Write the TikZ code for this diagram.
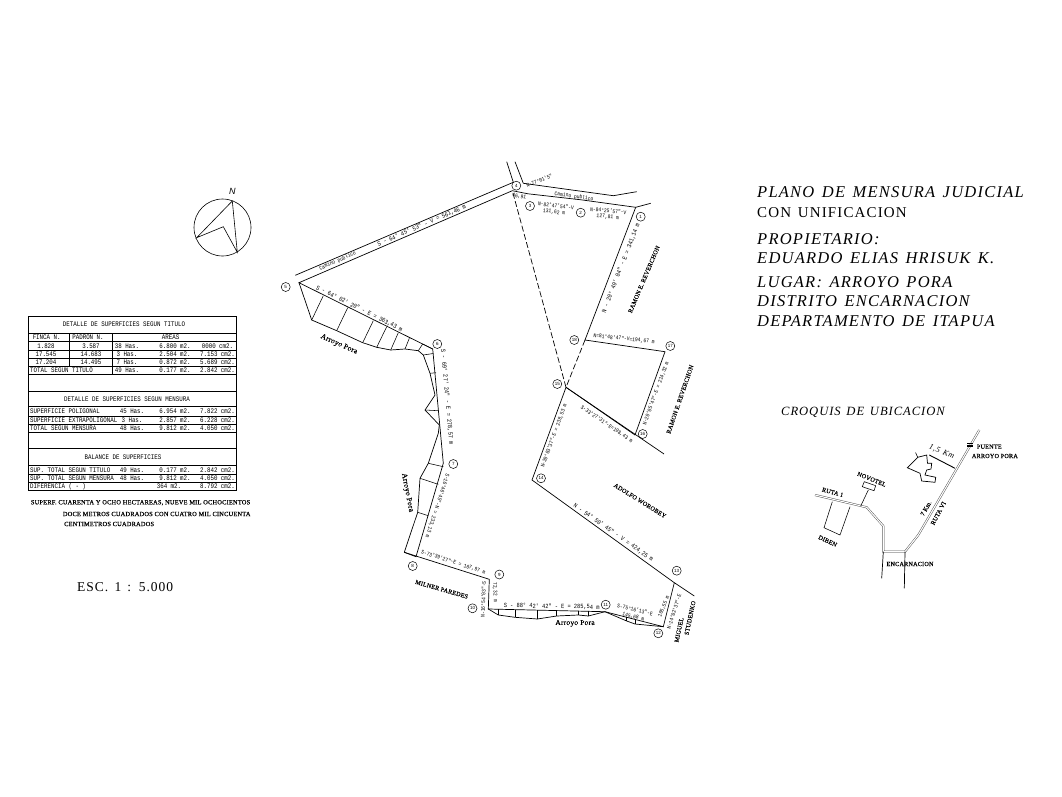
\documentclass[tikz,border=0pt]{standalone}
\usepackage{fontspec}
\setmainfont{Liberation Serif}
\newfontfamily\cadfont{Liberation Sans}
\newfontfamily\monofont[FakeStretch=0.83]{Liberation Mono}
\newfontfamily\platefont[LetterSpace=7.5,WordSpace=1.4]{Liberation Serif}
\newfontfamily\notefont[LetterSpace=3,FakeBold=0.4]{Liberation Serif}
\newcommand{\arearow}[6]{
	\node[tabcell] (#1h) at (#3,#2) {#4};
	\node[tabcell] (#1m) at (175,#2) {#5};
	\node[tabcell] (#1c) at (217.5,#2) {#6};
}
\tikzset{
	lotline/.style={line width=0.7pt},
	thinline/.style={line width=0.55pt},
	stake/.style={circle,draw,line width=0.5pt,inner sep=0pt,minimum size=9pt,font=\cadfont\fontsize{4.5}{5}\selectfont},
	meas/.style={inner sep=0pt,font=\monofont\fontsize{6.4}{7}\selectfont},
	smallmeas/.style={inner sep=0pt,font=\monofont\fontsize{5.6}{6}\selectfont},
	owner/.style={inner sep=0pt,font=\notefont\fontsize{6.2}{7}\selectfont},
	creek/.style={inner sep=0pt,font=\notefont\fontsize{7.5}{8}\selectfont},
	tabcell/.style={inner sep=0pt,font=\monofont\fontsize{7}{7}\selectfont},
	tabhead/.style={tabcell,anchor=west},
	noteline/.style={inner sep=0pt,anchor=west,font=\notefont\fontsize{6.4}{7}\selectfont},
	plate/.style={inner sep=0pt,anchor=west,font=\platefont\itshape\fontsize{16.5}{18}\selectfont},
	highway/.style={line width=0.45pt,double=white,double distance=1.1pt,draw=black!70},
	sketchtext/.style={inner sep=0pt,font=\notefont\fontsize{6.2}{7}\selectfont}
}
\begin{document}
\begin{tikzpicture}[x=1pt,y=-1pt]
	\useasboundingbox (0,0) rectangle (1062,797);

	% north
	\node[circle,draw,line width=0.6pt,minimum size=57pt,inner sep=0pt] (rose) at (222.5,227.5) {};
	\node[inner sep=0pt,font=\cadfont\itshape\fontsize{9}{9}\selectfont] (north) at (232.3,191) {N};
	\draw[line width=0.6pt] (232.3,201) -- (237.3,252.3) -- (223.3,226.7) -- (196.7,237.7) -- cycle;

	% table
	\foreach \y in {316.7,333.3,341.7,350,358,366.7,374,391,406.7,416,424.5,432.5,448.3,465.7,474.3,482.3,490}
		\draw[thinline] (28.3,\y) -- (236.7,\y);
	\draw[thinline] (28.3,316.7) -- (28.3,490);
	\draw[thinline] (236.7,316.7) -- (236.7,490);
	\draw[thinline] (69.3,333.3) -- (69.3,366.7);
	\draw[thinline] (112.7,333.3) -- (112.7,374);
	\node[tabcell] (tabA) at (124,324.5) {DETALLE DE SUPERFICIES SEGUN TITULO};
	\node[tabcell] (finca) at (46.7,337.6) {FINCA N.};
	\node[tabcell] (padron) at (88,337.6) {PADRON N.};
	\node[tabcell] (areas) at (170.7,337.6) {AREAS};
	\node[tabcell] (fa) at (46,346) {1.828};
	\node[tabcell] (pa) at (91,346) {3.587};
	\node[tabcell] (fb) at (46,354) {17.545};
	\node[tabcell] (pb) at (91,354) {14.683};
	\node[tabcell] (fc) at (46,362.3) {17.204};
	\node[tabcell] (pc) at (91,362.3) {14.495};
	\arearow{ra}{346}{127}{38 Has.}{6.800 m2.}{0000 cm2.}
	\arearow{rb}{354}{127}{3 Has.}{2.504 m2.}{7.153 cm2.}
	\arearow{rc}{362.3}{127}{7 Has.}{0.872 m2.}{5.689 cm2.}
	\node[tabhead] (ta) at (30,370.3) {TOTAL SEGUN TITULO};
	\arearow{rd}{370.3}{127}{49 Has.}{0.177 m2.}{2.842 cm2.}
	\node[tabcell] (tabB) at (127,399) {DETALLE DE SUPERFICIES SEGUN MENSURA};
	\node[tabhead] (sa) at (30,411.4) {SUPERFICIE POLIGONAL};
	\arearow{re}{411.4}{132}{45 Has.}{6.954 m2.}{7.822 cm2.}
	\node[tabhead] (sb) at (30,420.2) {SUPERFICIE EXTRAPOLIGONAL};
	\arearow{rf}{420.2}{132}{3 Has.}{2.857 m2.}{6.228 cm2.}
	\node[tabhead] (sc) at (30,428.6) {TOTAL SEGUN MENSURA};
	\arearow{rg}{428.6}{132}{48 Has.}{9.812 m2.}{4.050 cm2.}
	\node[tabcell] (tabC) at (123,457) {BALANCE DE SUPERFICIES};
	\node[tabhead] (ba) at (30,470) {SUP. TOTAL SEGUN TITULO};
	\arearow{rh}{470}{132}{49 Has.}{0.177 m2.}{2.842 cm2.}
	\node[tabhead] (bb) at (30,478.3) {SUP. TOTAL SEGUN MENSURA};
	\arearow{ri}{478.3}{132}{48 Has.}{9.812 m2.}{4.050 cm2.}
	\node[tabhead] (bc) at (30,486.2) {DIFERENCIA ( - )};
	\node[tabcell] (rjm) at (169,486.2) {364 m2.};
	\node[tabcell] (rjc) at (217.5,486.2) {8.792 cm2.};

	\node[noteline] (noteA) at (30.7,502.7) {SUPERF. CUARENTA Y OCHO HECTAREAS, NUEVE MIL OCHOCIENTOS};
	\node[noteline] (noteB) at (62.7,514) {DOCE METROS CUADRADOS CON CUATRO MIL CINCUENTA};
	\node[noteline] (noteC) at (64,524) {CENTIMETROS CUADRADOS};
	\node[anchor=west,inner sep=0pt,font=\platefont\fontsize{13.5}{14}\selectfont] (scale) at (77,587) {ESC. 1 : 5.000};

	% title
	\node[plate] (titleA) at (757,192) {PLANO DE MENSURA JUDICIAL};
	\node[plate,font=\platefont\fontsize{15}{17}\selectfont] (titleB) at (757,213) {CON UNIFICACION};
	\node[plate] (titleC) at (757,239) {PROPIETARIO:};
	\node[plate] (titleD) at (757,258) {EDUARDO ELIAS HRISUK K.};
	\node[plate] (titleE) at (757,282) {LUGAR: ARROYO PORA};
	\node[plate] (titleF) at (757,301) {DISTRITO ENCARNACION};
	\node[plate] (titleG) at (757,321) {DEPARTAMENTO DE ITAPUA};
	\node[plate,font=\platefont\itshape\fontsize{12.6}{14}\selectfont] (sketch) at (781,412) {CROQUIS DE UBICACION};

	% corners
	\coordinate (c1) at (635.7,207.3);
	\coordinate (c2) at (581,199.8);
	\coordinate (c3) at (528,193.8);
	\coordinate (c4) at (512.3,190.7);
	\coordinate (c5) at (299,282.7);
	\coordinate (c6) at (432.7,349);
	\coordinate (c7) at (443.3,463.3);
	\coordinate (c8) at (416,556.7);
	\coordinate (c8b) at (404.3,552.3);
	\coordinate (c9) at (489.3,579.3);
	\coordinate (c10) at (488.3,609);
	\coordinate (c11) at (605,611.7);
	\coordinate (c12) at (663.3,626.7);
	\coordinate (c13) at (674.3,582.7);
	\coordinate (c13b) at (694.3,596);
	\coordinate (c14) at (532,480);
	\coordinate (c15) at (566,387.3);
	\coordinate (c15b) at (664,454);
	\coordinate (c16) at (635,435);
	\coordinate (c17) at (665,351.7);
	\coordinate (c18) at (585,340);

	% stakes
	\node[stake] (s1) at (640.7,216.7) {1};
	\node[stake] (s2) at (580.7,212.7) {2};
	\node[stake] (s3) at (530,206) {3};
	\node[stake] (s4) at (516.3,185.7) {4};
	\node[stake] (s5) at (285.7,287) {5};
	\node[stake] (s6) at (437.3,344) {6};
	\node[stake] (s7) at (453.3,464) {7};
	\node[stake] (s8) at (412.7,566) {8};
	\node[stake] (s9) at (499.3,574.5) {9};
	\node[stake] (s10) at (472.5,608.3) {10};
	\node[stake] (s11) at (605.7,604.7) {11};
	\node[stake] (s12) at (658.3,633.3) {12};
	\node[stake] (s13) at (676.7,570.7) {13};
	\node[stake] (s14) at (541,478.3) {14};
	\node[stake] (s15) at (557.3,384) {15};
	\node[stake] (s16) at (642.7,434) {16};
	\node[stake] (s17) at (670.3,346) {17};
	\node[stake] (s18) at (574.3,340) {18};

	% boundary
	\draw[lotline] (c1) -- (c2) -- (c3) -- (c4) -- (c5) -- (c6) -- (c7) -- (c8) -- (c8b);
	\draw[lotline] (c8b) -- (c9) -- (c10) -- (c11) -- (c12) -- (c13);
	\draw[lotline] (c13b) -- (c13) -- (c14) -- (c15) -- (c15b);
	\draw[lotline] (c15) -- (c16);
	\draw[lotline] (c16) -- (c17) -- (c18) -- (c1);
	\draw[lotline,dashed,dash pattern=on 6pt off 2.5pt] (c18) -- (c15) -- (c4);

	% road
	\coordinate (ra) at (295.3,275.3);
	\coordinate (rb) at (513.3,182.3);
	\coordinate (rc) at (506.7,161.7);
	\coordinate (rd) at (515,161.7);
	\coordinate (re) at (523.3,183.3);
	\coordinate (rf) at (613.3,195.7);
	\coordinate (rg) at (636.7,191.7);
	\coordinate (rh) at (650.7,203.3);
	\draw[lotline] (ra) -- (rb) -- (rc);
	\draw[lotline] (rd) -- (re) -- (rf) -- (rg);
	\draw[lotline] (c1) -- (rh);

	% creek
	\draw[lotline] (c5) -- (311.7,320) -- (336.7,330.7) -- (362.7,342.7) -- (376.7,347.3) -- (390.7,350) -- (405,349) -- (418.3,350.7) -- (423.3,355) -- (430,373.3) -- (435,395) -- (425,410) -- (439.3,425) -- (438.3,433.3) -- (428.3,463.3) -- (420,478.3) -- (417.7,512.3) -- (c8b);
	\draw[thinline] (323.3,295.7) -- (311.7,320);
	\draw[thinline] (347.7,307.7) -- (336.7,330.7);
	\draw[thinline] (373.3,320.7) -- (362.7,342.7);
	\draw[thinline] (386.7,326.7) -- (376.7,347.3);
	\draw[thinline] (398.3,332.7) -- (390.7,350);
	\draw[thinline] (409.3,338.3) -- (405,349);
	\draw[thinline] (418.3,350.7) -- (422.7,344) -- (c6);
	\draw[thinline] (423.3,355) -- (433.3,353.5);
	\draw[thinline] (430,373.3) -- (436,372.7);
	\draw[thinline] (425,410) -- (438.3,410.7);
	\draw[thinline] (428.3,463.3) -- (443.3,466.7);
	\draw[thinline] (420,478.3) -- (438.3,484.3);
	\draw[thinline] (417.7,512.3) -- (428.3,515.7);
	\draw[lotline] (c10) -- (498.3,615) -- (515,617.3) -- (537.3,619) -- (556.7,616) -- (578.3,615) -- (588.3,616) -- (c11) -- (626.7,621) -- (635,624) -- (c12);
	\foreach \x/\ya/\yb in {498.3/609.4/615,515/609.6/617.3,537.3/610/619,556.7/610.3/616,578.3/610.7/615,588.3/610.9/616}
		\draw[thinline] (\x,\ya) -- (\x,\yb);
	\draw[thinline] (626.7,617.2) -- (626.7,621);
	\draw[thinline] (635,619.3) -- (635,624);

	% measures
	\node[smallmeas,rotate=23.5] (m1) at (337.7,261) {Camino publico};
	\node[meas,rotate=23.5] (m2) at (421.7,225.7) {S - 64° 45' 53" - V = 561,46 m};
	\node[meas,rotate=-26.4] (m3) at (359.3,308.8) {S - 64° 02' 20" - E = 363,43 m};
	\node[creek,rotate=-24] (m4) at (339,344.3) {Arroyo Pora};
	\node[smallmeas,rotate=23] (m5) at (539.3,180.7) {N-77°01'5"};
	\node[smallmeas,rotate=-8] (m6) at (574,196.7) {Camino publico};
	\node[smallmeas,rotate=-10] (m7) at (519.3,196.7) {46,91};
	\node[smallmeas,rotate=-7] (m8) at (556,205.7) {N-82°47'54"-V};
	\node[smallmeas,rotate=-7] (m9) at (554,212.3) {131,62 m};
	\node[smallmeas,rotate=-5] (m10) at (608.3,210.7) {N-84°25'57"-V};
	\node[smallmeas,rotate=-5] (m11) at (607.7,217) {127,81 m};
	\node[meas,rotate=69] (m12) at (621,268.3) {N - 20° 49' 04" - E = 341,14 m};
	\node[owner,rotate=67] (m13) at (644,279.3) {RAMON E. REVERCHON};
	\node[smallmeas,rotate=-6] (m14) at (624,339) {N=81°48'47"-V=194,67 m};
	\node[owner,rotate=71] (m15) at (680,399.3) {RAMON E. REVERCHON};
	\node[smallmeas,rotate=70] (m16) at (656,393.3) {N-20°05'47"-E = 214,32 m};
	\node[smallmeas,rotate=-34] (m17) at (606.7,424.3) {S-33°27'31"-E=198,43 m};
	\node[smallmeas,rotate=70] (m18) at (554,436) {N-20°03'37"-E = 238,53 m};
	\node[owner,rotate=-32] (m19) at (640,500.7) {ADOLFO WOROBEY};
	\node[meas,rotate=-35] (m20) at (613.3,532.7) {N - 54° 50' 45" - V = 424,25 m};
	\node[owner,rotate=78] (m21) at (679,630) {MIGUEL};
	\node[owner,rotate=78] (m22) at (690,618) {STUDENKO};
	\node[smallmeas,rotate=68] (m23) at (664,606.7) {105,55 m};
	\node[smallmeas,rotate=72] (m24) at (674,611.7) {N-14°02'37"-E};
	\node[smallmeas,rotate=-13] (m25) at (635,609.7) {S-75°16'13"-E};
	\node[smallmeas,rotate=-13] (m26) at (633.3,617) {145,68 m};
	\node[creek] (m27) at (575,623.3) {Arroyo Pora};
	\node[meas,rotate=-1] (m28) at (551.7,606.6) {S - 88° 42' 42" - E = 285,54 m};
	\node[smallmeas,rotate=-88] (m29) at (495,592) {72,32 m};
	\node[smallmeas,rotate=88] (m30) at (483.3,599.3) {N-16°54'03"-S};
	\node[smallmeas,rotate=-18] (m31) at (453.3,562.3) {S-73°39'27"-E = 107,97 m};
	\node[owner,rotate=-16] (m32) at (441.7,589.3) {MILNER PAREDES};
	\node[creek,rotate=-79] (m33) at (407.3,492.7) {Arroyo Pora};
	\node[smallmeas,rotate=-108] (m34) at (437.3,505.7) {S-16°46'45"-N = 233,13 m};
	\node[meas,rotate=-85] (m35) at (447,397) {S - 69° 27' 24" - E = 278,57 m};

	% sketch
	\draw[highway] (979.3,430) -- (918.3,535) -- (905,551.7) -- (883.3,551.7) -- (883.3,526) -- (866.7,507.3) -- (815,495);
	\coordinate (ea) at (883.3,551.7);
	\coordinate (eb) at (881.7,578.3);
	\coordinate (ec) at (905,551.7);
	\coordinate (ed) at (904.3,588.3);
	\draw[lotline] (ea) -- (eb);
	\draw[lotline] (ec) -- (ed);
	\draw[thinline] (860.7,506) -- (868.3,490);
	\draw[thinline] (864.3,481.7) -- (875.7,485.7) -- (874,490.7) -- (862.3,486.7) -- cycle;
	\draw[thinline] (832.3,501.7) -- (824,527.7) -- (840,535) -- (850,506.7);
	\draw[lotline] (907.3,467.7) -- (917.7,457.3) -- (926.7,455) -- (927.5,463.3) -- (931.7,463.3) -- (931,469) -- (926.7,470) -- (925,475) -- (935.7,477.3) -- (935,482.3) -- (921.7,481) -- (920,473.3) -- cycle;
	\draw[thinline] (917.7,457.3) -- (915.5,452.5);
	\draw[line width=0.9pt] (929.3,455) -- (955,468.3);
	\foreach \d in {-1.5,0,1.5}
		\draw[line width=0.8pt] (967,445+\d) -- (973,445+\d);
	\node[sketchtext,rotate=-22] (k1) at (871.7,479.3) {NOVOTEL};
	\node[sketchtext,rotate=-15] (k2) at (832.7,492.3) {RUTA 1};
	\node[sketchtext,rotate=-25] (k3) at (827.7,541) {DIBEN};
	\node[sketchtext] (k4) at (910,564) {ENCARNACION};
	\node[sketchtext,rotate=62] (k5) at (938.3,513.3) {RUTA VI};
	\node[sketchtext,rotate=60] (k6) at (926,508.3) {7 Km.};
	\node[sketchtext,rotate=-22,font=\platefont\itshape\fontsize{8}{9}\selectfont] (k7) at (941.7,451.7) {1,5 Km};
	\node[sketchtext,anchor=west] (k8) at (976.7,446.7) {PUENTE};
	\node[sketchtext,anchor=west] (k9) at (971.7,456) {ARROYO PORA};
\end{tikzpicture}
\end{document}
